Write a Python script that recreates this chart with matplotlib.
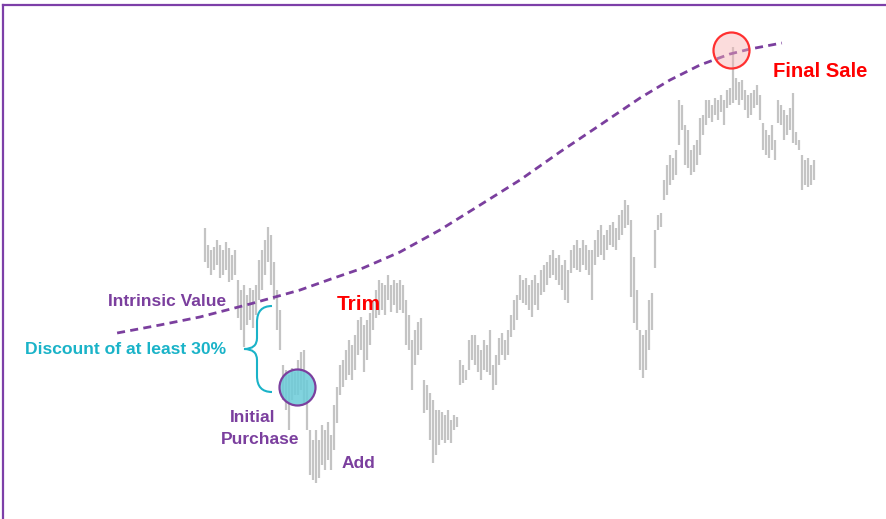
import numpy as np
import matplotlib
matplotlib.use("Agg")
import matplotlib.pyplot as plt
from matplotlib.path import Path
from matplotlib.patches import PathPatch
from matplotlib.lines import Line2D

plt.rcParams['font.family'] = ['Liberation Sans', 'DejaVu Sans']

# ---- price bars (high / low per bar) ----
highs = [291, 274, 269, 272, 279, 274, 269, 277, 271, 264, 269, 239, 229, 234, 224, 231, 229, 234, 259, 269,
         279, 292, 284, 257, 229, 209, 154, 149, 144, 151, 147, 159, 167, 169, 139, 89, 79, 89, 79, 94,
         89, 97, 84, 114, 132, 154, 159, 169, 179, 174, 184, 199, 202, 194, 199, 206, 219, 229, 239, 236,
         234, 244, 234, 239, 236, 239, 234, 219, 204, 179, 189, 197, 201, 139, 134, 126, 119, 109, 109, 107,
         104, 109, 99, 104, 102, 159, 154, 149, 179, 184, 184, 174, 169, 179, 174, 189, 154, 164, 181, 186,
         179, 189, 204, 219, 224, 244, 239, 241, 234, 239, 244, 236, 249, 254, 257, 264, 269, 261, 264, 254,
         259, 249, 269, 274, 279, 271, 279, 274, 269, 269, 279, 289, 294, 284, 289, 294, 297, 291, 304, 309,
         319, 314, 299, 262, 229, 189, 184, 189, 219, 226, 289, 304, 306, 339, 354, 364, 361, 369, 419, 414,
         394, 389, 369, 374, 379, 401, 404, 419, 419, 414, 421, 419, 424, 419, 429, 431, 472, 441, 437, 439,
         429, 424, 426, 429, 434, 424, 396, 389, 384, 394, 379, 419, 414, 409, 404, 411, 426, 387, 379, 364,
         359, 361, 354, 359]
lows = [257, 251, 244, 249, 254, 241, 244, 249, 237, 239, 244, 201, 189, 172, 194, 199, 191, 204, 219, 229,
        244, 257, 234, 219, 189, 169, 119, 109, 89, 119, 124, 124, 129, 116, 89, 44, 39, 36, 41, 54,
        49, 59, 49, 69, 96, 124, 132, 139, 144, 139, 149, 164, 169, 147, 159, 174, 189, 201, 204, 209,
        204, 219, 207, 214, 206, 209, 206, 174, 169, 129, 154, 164, 169, 106, 109, 79, 56, 64, 74, 79,
        76, 79, 76, 89, 92, 134, 136, 139, 149, 159, 154, 147, 139, 149, 147, 144, 129, 134, 154, 164,
        159, 164, 182, 189, 199, 219, 216, 214, 209, 202, 214, 209, 224, 227, 234, 241, 244, 239, 234, 229,
        219, 216, 246, 251, 249, 247, 254, 249, 244, 219, 254, 262, 264, 259, 269, 274, 272, 269, 279, 284,
        291, 294, 222, 196, 189, 149, 141, 149, 169, 189, 251, 289, 292, 319, 324, 334, 339, 344, 374, 389,
        354, 351, 344, 347, 354, 364, 384, 394, 401, 397, 404, 399, 407, 394, 411, 414, 416, 419, 414, 419,
        409, 401, 404, 411, 414, 399, 369, 364, 361, 369, 359, 396, 394, 379, 384, 389, 376, 374, 369, 329,
        334, 332, 334, 339]

# ---- intrinsic value curve (bar index, value) ----
iv_index = [-29.3, -15.0, -1.7, 15.0, 31.7, 42.0, 52.7, 65.0, 78.3, 91.7, 105.0, 118.3, 131.7, 145.0,
            155.0, 165.0, 175.0, 181.7, 192.3]
iv_values = [186, 194, 202, 215, 229, 240, 251, 267, 289, 314, 339, 367, 394, 421, 439, 454, 465, 470, 476]

# ---- event markers (bar index, value) ----
buy_point = (30.7, 132)
sell_point = (175.3, 469)

W, H = 887, 519
fig = plt.figure(figsize=(W / 100, H / 100), dpi=100)
ax = fig.add_axes([0, 0, 1, 1])
x0_px, step_px = 205, 3
ax.set_xlim(-x0_px / step_px, (W - x0_px) / step_px)
ax.set_ylim(0, H)
ax.axis('off')

idx = np.arange(len(highs))
ax.vlines(idx, lows, highs, color='#c4c4c4', lw=1.6, zorder=2)

purple = '#7B3F9E'
red = '#FF0000'
cyan = '#1AB3C8'

ax.plot(iv_index, iv_values, color='#7B3F9E', lw=2, dashes=(2.9, 1.9), zorder=3)

s_circ = (36 * 0.72) ** 2
ax.scatter([buy_point[0]], [buy_point[1]], s=s_circ, facecolor=(0.42, 0.80, 0.85, 0.85),
           edgecolor=purple, linewidth=1.6, zorder=4)
ax.scatter([sell_point[0]], [sell_point[1]], s=s_circ, facecolor=(0.97, 0.70, 0.70, 0.45),
           edgecolor='#FF3030', linewidth=1.6, zorder=4)


def P(x, y):
    return (x / W, 1 - y / H)


# brace
verts = [P(272, 306), P(257, 306), P(257, 322), P(257, 338), P(257, 349), P(244, 349),
         P(257, 349), P(257, 360), P(257, 376), P(257, 392), P(272, 392)]
codes = [Path.MOVETO, Path.CURVE3, Path.CURVE3, Path.LINETO, Path.CURVE3, Path.CURVE3,
         Path.CURVE3, Path.CURVE3, Path.LINETO, Path.CURVE3, Path.CURVE3]
fig.add_artist(PathPatch(Path(verts, codes), facecolor='none', edgecolor=cyan, lw=1.5,
                         transform=fig.transFigure))

# border
fig.add_artist(Line2D([3 / W, 1], [1 - 5 / H, 1 - 5 / H], color='#7D3FA8', lw=1.6,
                      transform=fig.transFigure))
fig.add_artist(Line2D([3 / W, 3 / W], [0, 1 - 5 / H], color='#7D3FA8', lw=1.6,
                      transform=fig.transFigure))


def T(x, y, s, color, size, ha='left'):
    fig.text(*P(x, y), s, color=color, fontsize=size, fontweight='bold', ha=ha, va='center')


T(108, 301, 'Intrinsic Value', purple, 12.5)
T(25, 349, 'Discount of at least 30%', cyan, 12.6)
T(337, 305, 'Trim', red, 15)
T(253, 417, 'Initial', purple, 12.5, ha='center')
T(260, 439, 'Purchase', purple, 12.5, ha='center')
T(342, 463, 'Add', purple, 12.5)
T(773, 72, 'Final Sale', red, 14.6)

fig.savefig('out.png', dpi=100)
